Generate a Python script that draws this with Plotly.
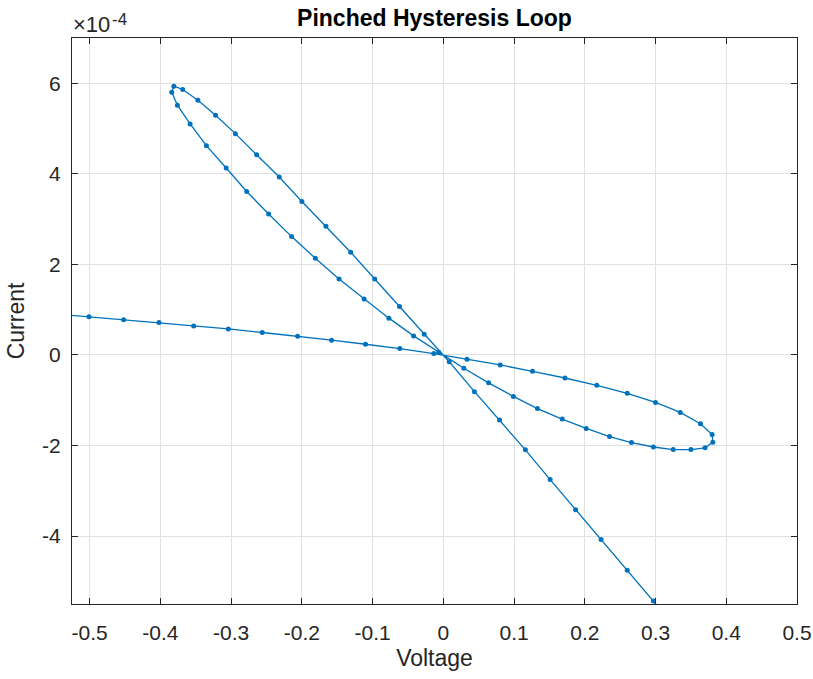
import plotly.graph_objects as go

# Voltage (V) and current (A) samples, in trajectory order
voltage = [-0.550, -0.501, -0.452, -0.402, -0.353, -0.304, -0.256, -0.206, -0.158, -0.110,
           -0.0615, -0.0135, 0.0334, 0.0805, 0.126, 0.172, 0.217, 0.260, 0.300, 0.335,
           0.3635, 0.380, 0.381, 0.370, 0.350, 0.325, 0.297, 0.266, 0.235, 0.202,
           0.168, 0.133, 0.099, 0.064, 0.029, -0.0065, -0.042, -0.077, -0.112, -0.1475,
           -0.181, -0.2145, -0.247, -0.278, -0.307, -0.335, -0.358, -0.376, -0.384, -0.381,
           -0.3685, -0.347, -0.322, -0.294, -0.264, -0.232, -0.200, -0.166, -0.131, -0.097,
           -0.062, -0.027, 0.0083, 0.044, 0.0795, 0.116, 0.151, 0.187, 0.223, 0.260,
           0.297, 0.333]
current = [0.91e-4, 0.842e-4, 0.775e-4, 0.718e-4, 0.642e-4, 0.576e-4, 0.496e-4, 0.414e-4, 0.326e-4, 0.237e-4,
           0.142e-4, 0.031e-4, -0.095e-4, -0.221e-4, -0.361e-4, -0.509e-4, -0.671e-4, -0.848e-4, -1.048e-4, -1.269e-4,
           -1.519e-4, -1.756e-4, -1.927e-4, -2.051e-4, -2.089e-4, -2.089e-4, -2.033e-4, -1.934e-4, -1.801e-4, -1.623e-4,
           -1.417e-4, -1.185e-4, -0.915e-4, -0.616e-4, -0.295e-4, 0.060e-4, 0.421e-4, 0.813e-4, 1.234e-4, 1.677e-4,
           2.135e-4, 2.614e-4, 3.112e-4, 3.610e-4, 4.128e-4, 4.622e-4, 5.103e-4, 5.515e-4, 5.803e-4, 5.936e-4,
           5.863e-4, 5.626e-4, 5.293e-4, 4.888e-4, 4.423e-4, 3.929e-4, 3.389e-4, 2.844e-4, 2.268e-4, 1.677e-4,
           1.068e-4, 0.458e-4, -0.151e-4, -0.811e-4, -1.435e-4, -2.095e-4, -2.753e-4, -3.417e-4, -4.075e-4, -4.753e-4,
           -5.433e-4, -6.10e-4]

x_tickvals = [-0.5, -0.4, -0.3, -0.2, -0.1, 0, 0.1, 0.2, 0.3, 0.4, 0.5]
x_ticktext = ["-0.5", "-0.4", "-0.3", "-0.2", "-0.1", "0", "0.1", "0.2", "0.3", "0.4", "0.5"]
y_tickvals = [-4e-4, -2e-4, 0, 2e-4, 4e-4, 6e-4]
y_ticktext = ["-4", "-2", "0", "2", "4", "6"]

FONT = "Liberation Sans, Arial, sans-serif"
AX = "#262626"
GRID = "#e0e0e0"
BLUE = "#0072BD"

fig = go.Figure()
fig.add_trace(go.Scatter(
    x=voltage, y=current, mode="lines+markers",
    line=dict(color=BLUE, width=1.3),
    marker=dict(color=BLUE, size=5),
    showlegend=False,
))

common = dict(
    showline=True, linecolor=AX, linewidth=1, mirror="ticks",
    ticks="inside", ticklen=6, tickcolor=AX, tickwidth=1,
    showgrid=True, gridcolor=GRID, gridwidth=1, zeroline=False,
    tickfont=dict(family=FONT, size=21, color=AX), automargin=False,
)

fig.update_layout(
    width=813, height=679, autosize=False,
    margin=dict(l=72, r=16, t=38, b=75),
    paper_bgcolor="white", plot_bgcolor="white",
    title=dict(text="<b>Pinched Hysteresis Loop</b>", x=0.5, xref="paper", xanchor="center",
               y=1 - 18 / 679, yref="container", yanchor="middle",
               font=dict(family=FONT, size=23, color="black")),
    xaxis=dict(range=[-0.525, 0.5], tickvals=x_tickvals, ticktext=x_ticktext,
               title=dict(text="Voltage", font=dict(family=FONT, size=23, color=AX), standoff=6),
               ticklabelstandoff=10, **common),
    yaxis=dict(range=[-5.5e-4, 7e-4], tickvals=y_tickvals, ticktext=y_ticktext,
               title=dict(text="Current", font=dict(family=FONT, size=23, color=AX), standoff=11),
               ticklabelstandoff=6, **common),
    annotations=[
        dict(text="×10", xref="paper", yref="paper", x=0, y=1, xanchor="left", yanchor="bottom",
             showarrow=False, xshift=0, yshift=0, borderpad=0, font=dict(family=FONT, size=22, color=AX)),
        dict(text="-4", xref="paper", yref="paper", x=0, y=1, xanchor="left", yanchor="top",
             showarrow=False, xshift=39, yshift=29, borderpad=0, font=dict(family=FONT, size=17, color=AX)),
    ],
)

fig.write_html("out.html", config={"displayModeBar": False},
               post_script="document.body.style.margin='0';")
